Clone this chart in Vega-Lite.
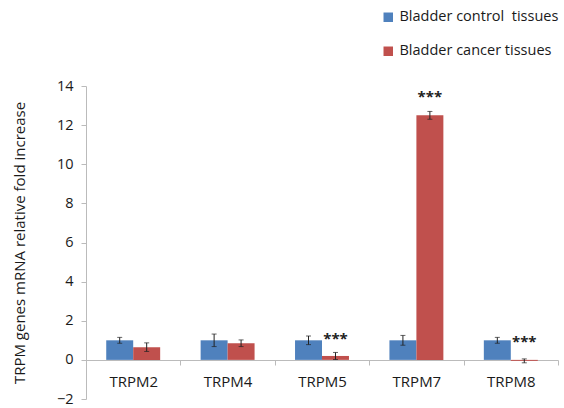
{
  "$schema": "https://vega.github.io/schema/vega-lite/v6.json",
  "width": 472,
  "height": 313,
  "autosize": {"type": "none"},
  "padding": {"left": 86, "top": 86, "right": 6, "bottom": 9},
  "background": "white",
  "config": {
    "view": {"stroke": null},
    "font": "Open Sans",
    "axis": {"labelFont": "Open Sans", "titleFont": "Open Sans", "labelColor": "#1a1a1a", "titleColor": "#1a1a1a", "grid": false, "domainColor": "#bbb", "tickColor": "#bbb"},
    "axisY": {"labelOverlap": false, "labelFlush": false}
  },
  "data": {
    "values": [
      {"gene": "TRPM2", "group": "Bladder control\u00a0 tissues", "value": 1.0, "err": 0.15, "sig": "", "sigY": null},
      {"gene": "TRPM2", "group": "Bladder cancer tissues", "value": 0.65, "err": 0.22, "sig": "", "sigY": null},
      {"gene": "TRPM4", "group": "Bladder control\u00a0 tissues", "value": 1.0, "err": 0.32, "sig": "", "sigY": null},
      {"gene": "TRPM4", "group": "Bladder cancer tissues", "value": 0.85, "err": 0.17, "sig": "", "sigY": null},
      {"gene": "TRPM5", "group": "Bladder control\u00a0 tissues", "value": 1.0, "err": 0.22, "sig": "", "sigY": null},
      {"gene": "TRPM5", "group": "Bladder cancer tissues", "value": 0.2, "err": 0.18, "sig": "***", "sigY": 1.05},
      {"gene": "TRPM7", "group": "Bladder control\u00a0 tissues", "value": 1.0, "err": 0.25, "sig": "", "sigY": null},
      {"gene": "TRPM7", "group": "Bladder cancer tissues", "value": 12.5, "err": 0.2, "sig": "***", "sigY": 13.45},
      {"gene": "TRPM8", "group": "Bladder control\u00a0 tissues", "value": 1.0, "err": 0.15, "sig": "", "sigY": null},
      {"gene": "TRPM8", "group": "Bladder cancer tissues", "value": -0.05, "err": 0.1, "sig": "***", "sigY": 0.92}
    ]
  },
  "encoding": {
    "x": {
      "field": "gene", "type": "nominal", "sort": null,
      "scale": {"paddingInner": 0, "paddingOuter": 0},
      "axis": {"title": null, "labelAngle": 0, "labelFontSize": 15, "labelPadding": 9, "offset": -39, "tickBand": "extent", "tickSize": 5, "domainColor": "#bbb"}
    },
    "xOffset": {"field": "group", "type": "nominal", "sort": ["Bladder control\u00a0 tissues", "Bladder cancer tissues"], "scale": {"paddingOuter": 0.75, "paddingInner": 0}}
  },
  "layer": [
    {
      "mark": {"type": "bar"},
      "encoding": {
        "y": {
          "field": "value", "type": "quantitative",
          "scale": {"domain": [-2, 14], "nice": false, "zero": false},
          "axis": {"title": "TRPM genes mRNA relative fold increase", "titleFontSize": 15, "titleFontWeight": "normal", "titlePadding": 29, "labelFontSize": 14.5, "labelPadding": 8, "values": [-2, 0, 2, 4, 6, 8, 10, 12, 14], "labelOverlap": false, "labelFlush": false, "tickSize": 5}
        },
        "y2": {"datum": 0},
        "color": {
          "field": "group", "type": "nominal",
          "sort": ["Bladder control\u00a0 tissues", "Bladder cancer tissues"],
          "scale": {"domain": ["Bladder control\u00a0 tissues", "Bladder cancer tissues"], "range": ["#4F81BD", "#C0504D"]},
          "legend": {"title": null, "orient": "none", "legendX": 295, "legendY": -76, "symbolType": "square", "symbolSize": 90, "symbolStrokeWidth": 0, "labelFontSize": 14.5, "labelColor": "#1a1a1a", "rowPadding": 19, "labelOffset": 4}
        }
      }
    },
    {
      "mark": {"type": "rule", "color": "#222", "strokeWidth": 1},
      "transform": [{"calculate": "datum.value - datum.err", "as": "lo"}, {"calculate": "datum.value + datum.err", "as": "hi"}],
      "encoding": {
        "y": {"field": "lo", "type": "quantitative", "axis": {"title": "TRPM genes mRNA relative fold increase", "titleFontSize": 15, "titleFontWeight": "normal", "titlePadding": 29, "labelFontSize": 14.5, "labelPadding": 8, "values": [-2, 0, 2, 4, 6, 8, 10, 12, 14], "labelOverlap": false, "labelFlush": false, "tickSize": 5}},
        "y2": {"field": "hi"}
      }
    },
    {
      "mark": {"type": "tick", "color": "#222", "size": 5, "thickness": 1, "orient": "horizontal"},
      "transform": [{"calculate": "datum.value - datum.err", "as": "lo"}],
      "encoding": {"y": {"field": "lo", "type": "quantitative", "axis": {"title": "TRPM genes mRNA relative fold increase", "titleFontSize": 15, "titleFontWeight": "normal", "titlePadding": 29, "labelFontSize": 14.5, "labelPadding": 8, "values": [-2, 0, 2, 4, 6, 8, 10, 12, 14], "labelOverlap": false, "labelFlush": false, "tickSize": 5}}}
    },
    {
      "mark": {"type": "tick", "color": "#222", "size": 5, "thickness": 1, "orient": "horizontal"},
      "transform": [{"calculate": "datum.value + datum.err", "as": "hi"}],
      "encoding": {"y": {"field": "hi", "type": "quantitative", "axis": {"title": "TRPM genes mRNA relative fold increase", "titleFontSize": 15, "titleFontWeight": "normal", "titlePadding": 29, "labelFontSize": 14.5, "labelPadding": 8, "values": [-2, 0, 2, 4, 6, 8, 10, 12, 14], "labelOverlap": false, "labelFlush": false, "tickSize": 5}}}
    },
    {
      "mark": {"type": "text", "fontSize": 15, "fontWeight": "bold", "color": "#222", "baseline": "middle"},
      "transform": [{"filter": "datum.sig != ''"}],
      "encoding": {"y": {"field": "sigY", "type": "quantitative", "axis": {"title": "TRPM genes mRNA relative fold increase", "titleFontSize": 15, "titleFontWeight": "normal", "titlePadding": 29, "labelFontSize": 14.5, "labelPadding": 8, "values": [-2, 0, 2, 4, 6, 8, 10, 12, 14], "labelOverlap": false, "labelFlush": false, "tickSize": 5}}, "text": {"field": "sig"}}
    }
  ]
}
